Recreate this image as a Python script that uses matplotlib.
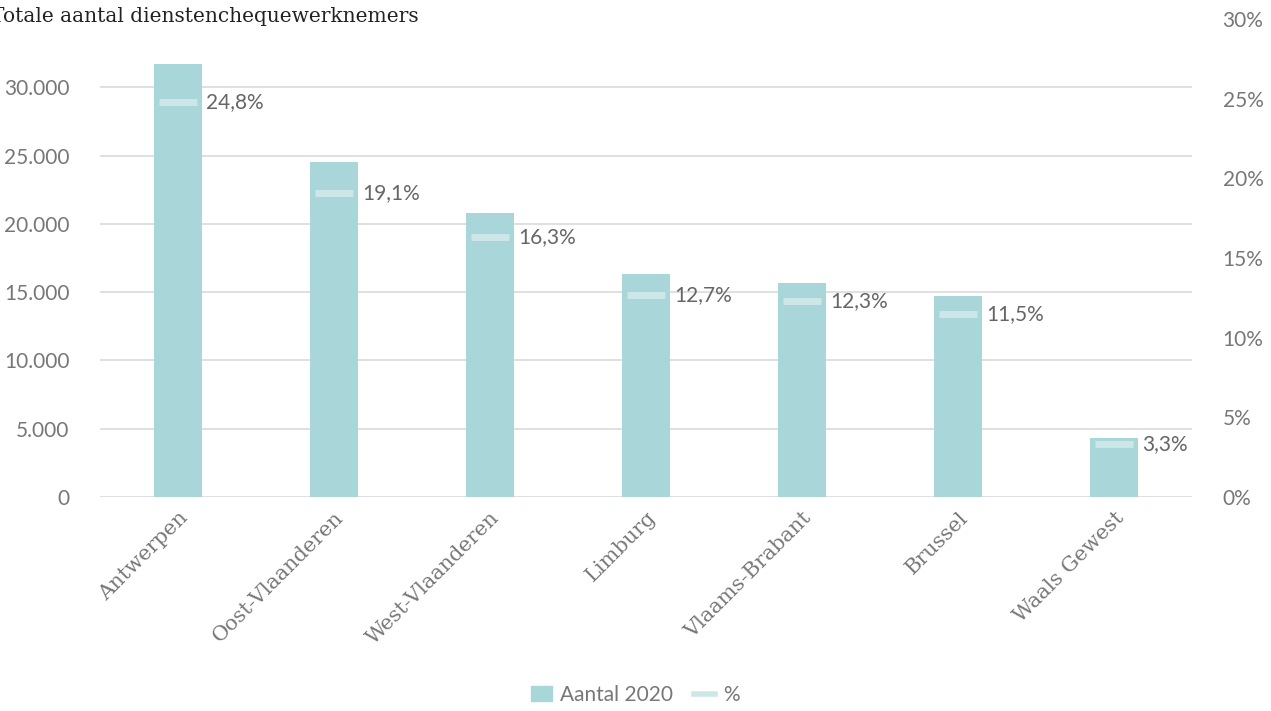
import matplotlib
matplotlib.use("Agg")
import matplotlib.pyplot as plt
from matplotlib.lines import Line2D
from matplotlib.patches import Patch

categories = ["Antwerpen", "Oost-Vlaanderen", "West-Vlaanderen", "Limburg",
              "Vlaams-Brabant", "Brussel", "Waals Gewest"]
aantal_2020 = [31700, 24500, 20800, 16300, 15700, 14700, 4300]
percent = [24.8, 19.1, 16.3, 12.7, 12.3, 11.5, 3.3]
left_ticks = [0, 5000, 10000, 15000, 20000, 25000, 30000]
left_tick_labels = ["0", "5.000", "10.000", "15.000", "20.000", "25.000", "30.000"]
right_ticks = [0, 5, 10, 15, 20, 25, 30]
right_tick_labels = ["0%", "5%", "10%", "15%", "20%", "25%", "30%"]

bar_color = "#a9d6d9"
marker_color = "#cde6e8"
text_color = "#666666"
tick_color = "#777777"
font = ["Lato", "DejaVu Sans"]

fig = plt.figure(figsize=(12.71, 7.11), dpi=100)
ax = fig.add_axes([100/1271, 1 - 497/711, (1192-100)/1271, (497-19)/711])
x = list(range(len(categories)))
ax.bar(x, aantal_2020, width=0.31, color=bar_color, zorder=3)
ax.set_xlim(-0.5, len(categories) - 0.5)
ax.set_ylim(0, 35000)
ax.set_yticks(left_ticks)
ax.set_yticklabels(left_tick_labels, family=font, fontsize=15, color=tick_color)
for t in left_ticks:
    ax.axhline(t, color="#dddddd", lw=1.3, zorder=1)
for s in ax.spines.values():
    s.set_visible(False)
ax.tick_params(axis="y", length=0, pad=22)
ax.tick_params(axis="x", length=0, pad=8)
ax.set_xticks(x)
ax.set_xticklabels(categories, rotation=45, ha="right", rotation_mode="anchor",
                   family=["DejaVu Serif"], fontsize=15, color=tick_color)

ax2 = ax.twinx()
ax2.set_ylim(0, 30)
ax2.set_yticks(right_ticks)
ax2.set_yticklabels(right_tick_labels, family=font, fontsize=15, color=tick_color)
ax2.tick_params(axis="y", length=0, pad=22)
for s in ax2.spines.values():
    s.set_visible(False)
ax2.scatter(x, percent, marker="_", s=750, linewidths=5, color=marker_color, zorder=4)
for xi, p in zip(x, percent):
    ax2.annotate(f"{p:.1f}%".replace(".", ","), (xi, p), xytext=(20, 0),
                 textcoords="offset points", va="center", ha="left",
                 family=font, fontsize=15, color=text_color)

fig.text(-0.007, 0.977, "Totale aantal dienstenchequewerknemers", family=["DejaVu Serif"],
         fontsize=14.5, color="#222222", ha="left", va="center")

handles = [Patch(color=bar_color, label="Aantal 2020"),
           Line2D([], [], color=marker_color, lw=4, label="%")]
leg = fig.legend(handles=handles, loc="center", bbox_to_anchor=(0.5, 1 - 695/711),
                 ncol=2, frameon=False, handlelength=1.0, handletextpad=0.4,
                 columnspacing=1.0, prop={"family": font, "size": 15})
for t in leg.get_texts():
    t.set_color(tick_color)

fig.savefig("out.png", dpi=100)
